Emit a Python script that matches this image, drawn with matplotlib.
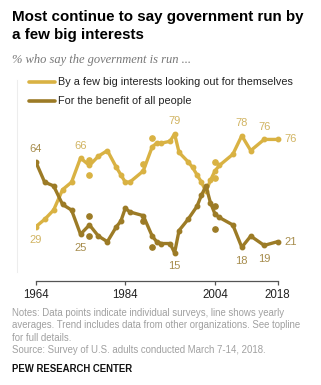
import matplotlib
matplotlib.use("Agg")
import matplotlib.pyplot as plt
from matplotlib.lines import Line2D

plt.rcParams['font.family'] = ['Liberation Sans', 'DejaVu Sans']

# Yearly averages (line) -- % who say government is run ...
years_interests = [1964, 1966, 1968, 1970, 1972, 1974, 1976, 1978, 1980, 1982, 1983, 1984,
                   1985, 1988, 1990, 1991, 1992, 1994, 1995, 1996, 1998, 1999, 2000, 2001,
                   2002, 2003, 2004, 2005, 2008, 2010, 2012, 2015, 2018]
pct_interests = [29, 33, 38, 49, 53, 66, 62, 67, 70, 61, 57, 53,
                 53, 59, 72, 74, 74, 75, 79, 69, 64, 61, 57, 53,
                 48, 54, 59, 62, 68, 78, 70, 76, 76]

years_benefit = [1964, 1966, 1968, 1970, 1972, 1974, 1976, 1978, 1980, 1982, 1983, 1984,
                 1985, 1988, 1990, 1991, 1992, 1994, 1995, 1996, 1998, 2000, 2001,
                 2002, 2003, 2004, 2005, 2008, 2010, 2012, 2015, 2018]
pct_benefit = [64, 53, 51, 41, 38, 25, 30, 24, 21, 29, 32, 39,
               37, 35, 24, 21, 20, 20, 15, 27, 33, 40, 46,
               51, 42, 36, 34, 30, 18, 24, 19, 21]

# Individual surveys that sit off the yearly line
dot_years_interests = [1976, 1976, 1988, 1990, 2004, 2004]
dot_pct_interests = [65, 57, 63, 77, 64, 55]
dot_years_benefit = [1976, 1976, 1988, 1990, 2004, 2004]
dot_pct_benefit = [35, 24, 32, 18, 40, 28]

# Labelled values
lab_years_interests = [1964, 1974, 1995, 2010, 2015, 2018]
lab_vals_interests = [29, 66, 79, 78, 76, 76]
lab_years_benefit = [1964, 1974, 1995, 2010, 2015, 2018]
lab_vals_benefit = [64, 25, 15, 18, 19, 21]

tick_years = [1964, 1984, 2004, 2018]

gold = '#d9b243'
dark = '#9c7b26'
gold_txt = '#d1b462'
dark_txt = '#a68c4c'

W, H = 321, 385
fig = plt.figure(figsize=(W / 100, H / 100), dpi=100)
ax = fig.add_axes([35.7 / W, 1 - 280.7 / H, (56 * 4.48) / W, (280.7 - 122.7) / H])
ax.set_xlim(1964, 2020)
ax.set_ylim(0, 85)

ax.plot(years_interests, pct_interests, color=gold, lw=2.4, marker='o', ms=3.2,
        solid_joinstyle='round', solid_capstyle='round', zorder=3)
ax.plot(years_benefit, pct_benefit, color=dark, lw=2.4, marker='o', ms=3.2,
        solid_joinstyle='round', solid_capstyle='round', zorder=3)
ax.plot(dot_years_interests, dot_pct_interests, 'o', color=gold, ms=3.8, zorder=3)
ax.plot(dot_years_benefit, dot_pct_benefit, 'o', color=dark, ms=3.8, zorder=3)

# value labels
for yr, v in zip(lab_years_interests, lab_vals_interests):
    if yr == 2018:
        ax.text(yr + 1.6, v, str(v), color=gold_txt, fontsize=8, va='center', ha='left', clip_on=False)
    elif yr == 1964:
        ax.text(yr, v - 4.5, str(v), color=gold_txt, fontsize=8, va='top', ha='center')
    else:
        ax.text(yr, v + 4, str(v), color=gold_txt, fontsize=8, va='bottom', ha='center')
for yr, v in zip(lab_years_benefit, lab_vals_benefit):
    if yr == 2018:
        ax.text(yr + 1.6, v, str(v), color=dark_txt, fontsize=8, va='center', ha='left', clip_on=False)
    elif yr == 1964:
        ax.text(yr, v + 4, str(v), color=dark_txt, fontsize=8, va='bottom', ha='center')
    else:
        ax.text(yr, v - 4.5, str(v), color=dark_txt, fontsize=8, va='top', ha='center')

for s in ['top', 'right', 'left']:
    ax.spines[s].set_visible(False)
ax.spines['bottom'].set_bounds(1964, 2018)
ax.spines['bottom'].set_color('#555555')
ax.spines['bottom'].set_linewidth(0.9)
ax.set_yticks([])
ax.set_xticks(tick_years)
ax.set_xticklabels([str(t) for t in tick_years])
ax.tick_params(axis='x', length=3, width=0.9, color='#555555', labelsize=8.3,
               labelcolor='#222222', pad=3)

# faint left rule
fig.add_artist(Line2D([17 / W, 17 / W], [1 - 80 / H, 1 - 272 / H], color='#ededed', lw=0.8))

# title and subtitle
fig.text(12 / W, 1 - 21 / H, 'Most continue to say government run by', fontsize=10.9,
         fontweight='bold', color='#000000', va='baseline')
fig.text(12 / W, 1 - 39.5 / H, 'a few big interests', fontsize=10.9,
         fontweight='bold', color='#000000', va='baseline')
fig.text(12 / W, 1 - 63 / H, '% who say the government is run ...', fontsize=9,
         style='italic', family='Liberation Serif', color='#777777', va='baseline')

# legend
fig.add_artist(Line2D([29 / W, 55 / W], [1 - 81.7 / H] * 2, color=gold, lw=2.6,
                      solid_capstyle='round'))
fig.add_artist(Line2D([29 / W, 55 / W], [1 - 101 / H] * 2, color=dark, lw=2.6,
                      solid_capstyle='round'))
fig.text(58 / W, 1 - 81.7 / H, 'By a few big interests looking out for themselves',
         fontsize=7.8, color='#222222', va='center')
fig.text(58 / W, 1 - 101 / H, 'For the benefit of all people',
         fontsize=7.8, color='#222222', va='center')

# notes
notes = ['Notes: Data points indicate individual surveys, line shows yearly',
         'averages. Trend includes data from other organizations. See topline',
         'for full details.',
         'Source: Survey of U.S. adults conducted March 7-14, 2018.']
for i, line in enumerate(notes):
    fig.text(12 / W, 1 - (312.7 + i * 12.5) / H, line, fontsize=6.95, color='#a0a0a0',
             va='center')
fig.text(12 / W, 1 - 369.5 / H, 'PEW RESEARCH CENTER', fontsize=6.9, fontweight='bold',
         color='#111111', va='center')

fig.savefig('out.png', dpi=100)
